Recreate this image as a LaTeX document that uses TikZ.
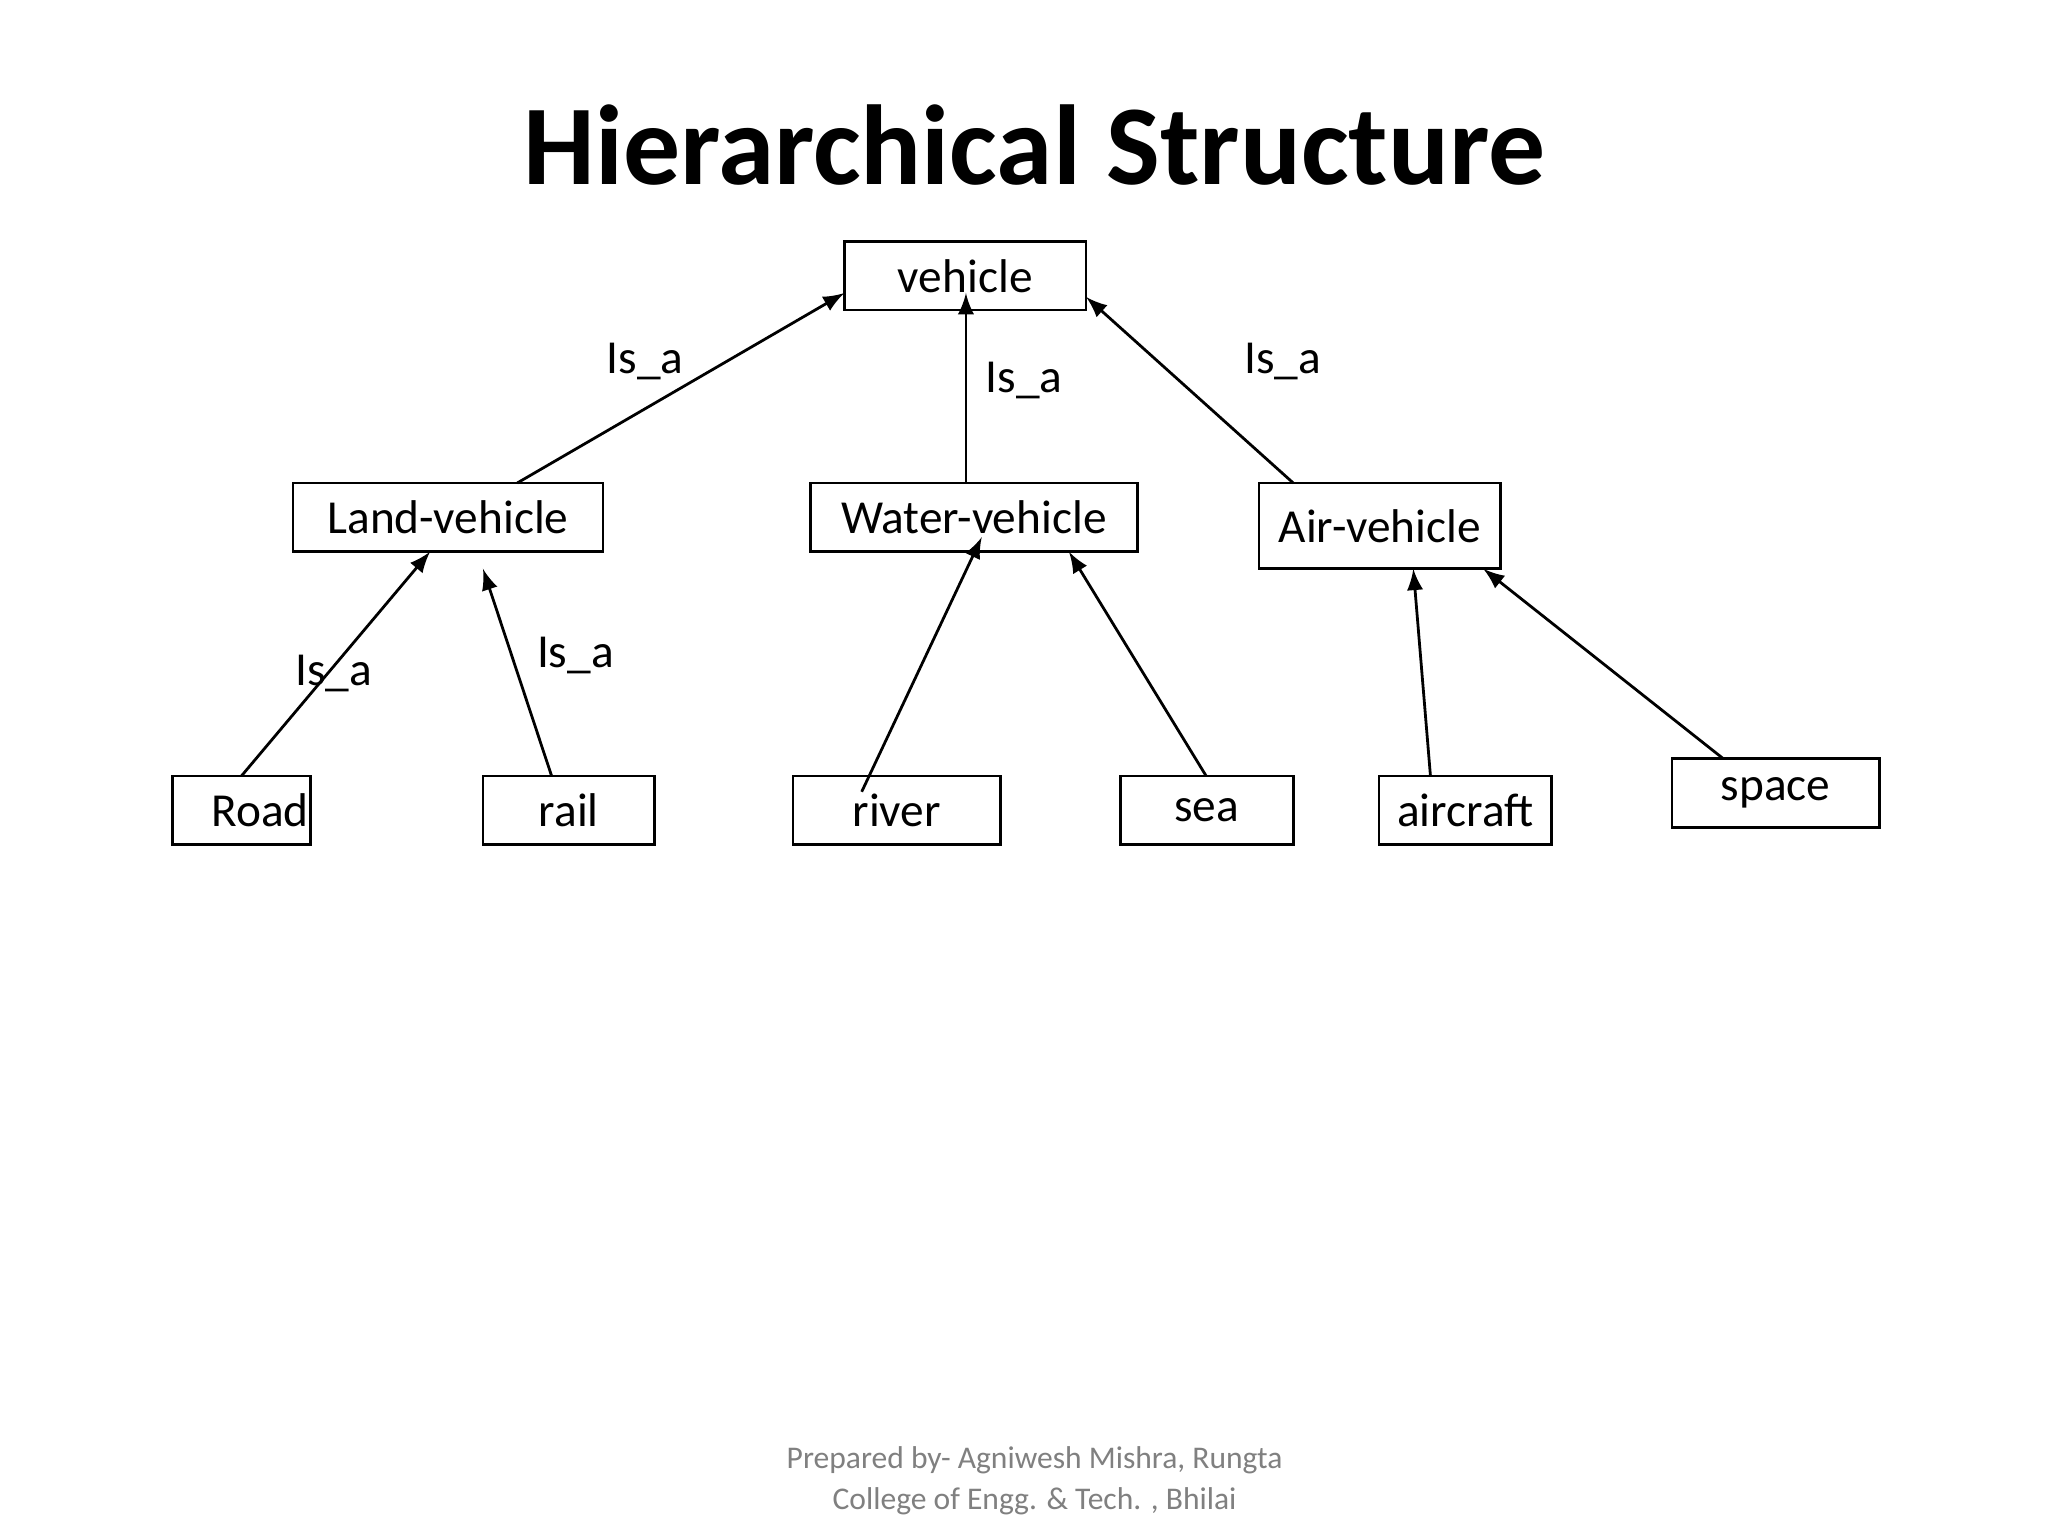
\documentclass[tikz,border=0pt]{standalone}
\usepackage{fontspec}
\setmainfont{Carlito}
\begin{document}
\begin{tikzpicture}[x=0.01cm,y=-0.01cm,
  bx/.style={draw,line width=0.6pt,inner sep=0pt,font=\fontsize{10.2pt}{12pt}\selectfont},
  lb/.style={font=\fontsize{10.2pt}{12pt}\selectfont},
  ar/.style={-latex,line width=0.6pt}]
\useasboundingbox[fill=white] (0,0) rectangle (1552,1164);
\node[font=\bfseries\fontsize{24.5pt}{30pt}\selectfont] (title) at (784,110) {Hierarchical Structure};
\newcommand{\bxn}[6]{\node[bx,minimum width={(#4-#2)*0.01cm},minimum height={(#5-#3)*0.01cm}] (#1) at ({(#2+#4)/2},{(#3+#5)/2}) {#6};}
\bxn{veh}{640}{183}{823}{235}{vehicle}
\bxn{land}{222}{366}{457}{418}{Land-vehicle}
\bxn{water}{614}{366}{862}{418}{Water-vehicle}
\bxn{air}{954}{366}{1137}{431}{Air-vehicle}
\bxn{road}{131}{588}{235}{640}{\hspace{8pt}Road}
\bxn{rail}{366}{588}{496}{640}{rail}
\bxn{river}{601}{588}{758}{640}{river}
\bxn{sea}{849}{588}{980}{640}{sea}
\bxn{aircraft}{1045}{588}{1176}{640}{aircraft}
\bxn{space}{1267}{575}{1424}{627}{space}
\coordinate (v1) at (640,222); \coordinate (v2) at (732,222); \coordinate (v3) at (823,225);
\coordinate (l0) at (392,366); \coordinate (w0) at (732,366); \coordinate (a0) at (980,366);
\coordinate (l1) at (326,418); \coordinate (l2) at (366,431);
\coordinate (w1) at (744,407); \coordinate (w2) at (810,418);
\coordinate (a1) at (1071,431); \coordinate (a2) at (1124,431);
\coordinate (rd) at (183,588); \coordinate (rl) at (418,588); \coordinate (rv) at (653,600);
\coordinate (se) at (914,588); \coordinate (ac) at (1084,588); \coordinate (sp) at (1306,575);
\draw[ar] (l0) -- (v1);
\draw[ar] (w0) -- (v2);
\draw[ar] (a0) -- (v3);
\draw[ar] (rd) -- (l1);
\draw[ar] (rl) -- (l2);
\draw[ar] (rv) -- (w1);
\draw[ar] (se) -- (w2);
\draw[ar] (ac) -- (a1);
\draw[ar] (sp) -- (a2);
\node[lb] (t1) at (489,274) {Is\_a};
\node[lb] (t2) at (776,288) {Is\_a};
\node[lb] (t3) at (972,274) {Is\_a};
\node[lb] (t4) at (253,510) {Is\_a};
\node[lb] (t5) at (436,497) {Is\_a};
\node[text=gray,align=center,font=\fontsize{6.8pt}{8.8pt}\selectfont] (foot) at (784,1122) {Prepared by- Agniwesh Mishra, Rungta\\College of Engg. \& Tech. , Bhilai};
\end{tikzpicture}
\end{document}
